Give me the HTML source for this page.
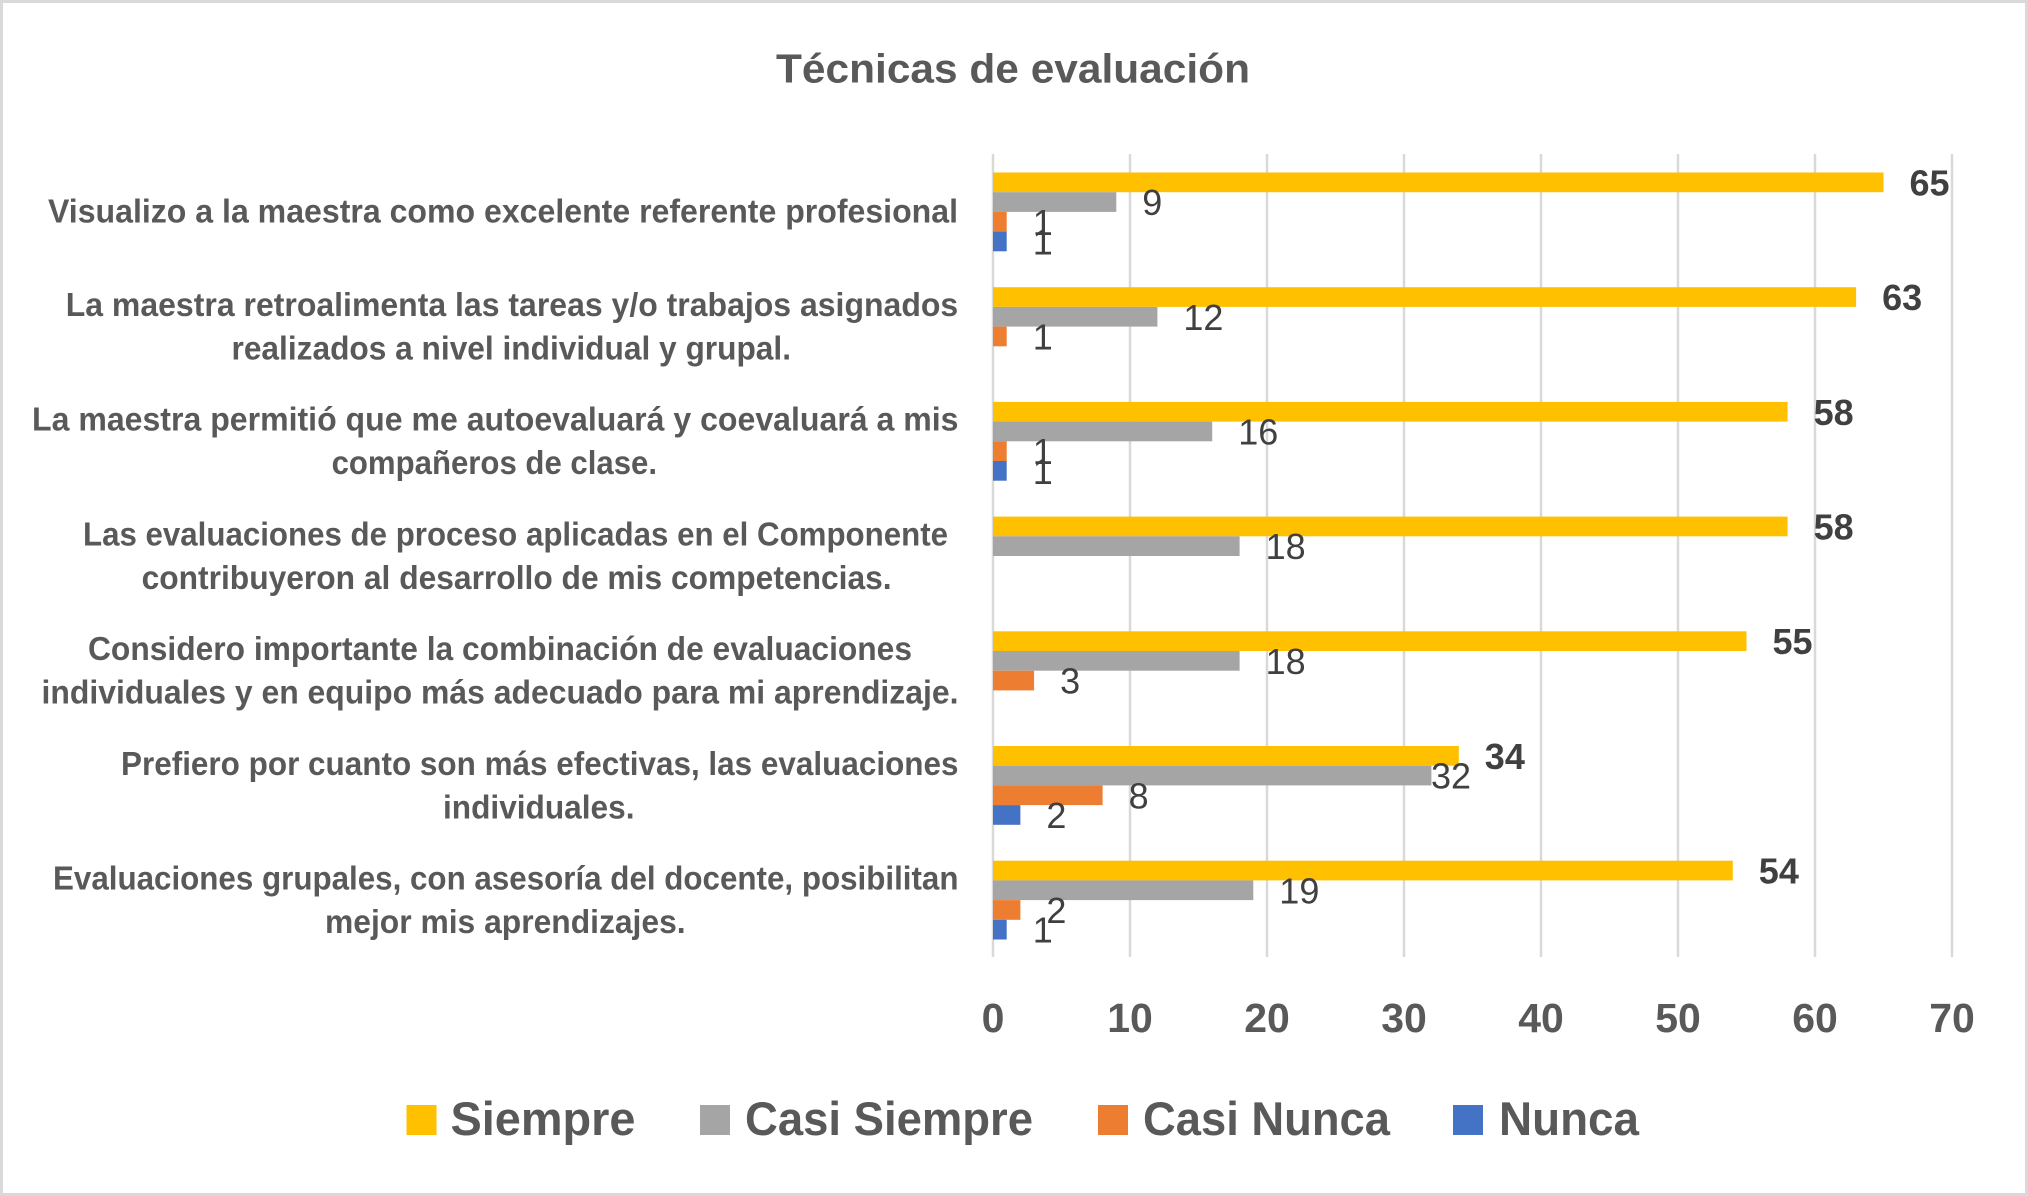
<!DOCTYPE html>
<html>
<head>
<meta charset="utf-8">
<style>
  html, body { margin: 0; padding: 0; background: #ffffff; }
  svg { display: block; }
  text { font-family: "Liberation Sans", Arial, sans-serif; }
  .cat { font-size: 33px; font-weight: bold; fill: #595959; }
  .tick { font-size: 41px; font-weight: bold; fill: #595959; }
  .lbl { font-size: 36px; fill: #404040; }
  .lblb { font-size: 36px; font-weight: bold; fill: #404040; }
  .leg { font-size: 47px; font-weight: bold; fill: #595959; }
  .title { font-size: 41px; font-weight: bold; fill: #595959; }
</style>
</head>
<body>
<svg width="2028" height="1196" viewBox="0 0 2028 1196" xmlns="http://www.w3.org/2000/svg">
  <rect x="0" y="0" width="2028" height="1196" fill="#ffffff"/>
  <rect x="1.5" y="1.5" width="2025" height="1193" fill="none" stroke="#d9d9d9" stroke-width="3"/>

  <!-- Title -->
  <text class="title" x="776" y="82.5" textLength="474" lengthAdjust="spacingAndGlyphs">Técnicas de evaluación</text>

  <!-- Gridlines -->
  <g stroke="#d9d9d9" stroke-width="2.5">
    <line x1="993" y1="154" x2="993" y2="957"/>
    <line x1="1130" y1="154" x2="1130" y2="957"/>
    <line x1="1267" y1="154" x2="1267" y2="957"/>
    <line x1="1404" y1="154" x2="1404" y2="957"/>
    <line x1="1541" y1="154" x2="1541" y2="957"/>
    <line x1="1678" y1="154" x2="1678" y2="957"/>
    <line x1="1815" y1="154" x2="1815" y2="957"/>
    <line x1="1952" y1="154" x2="1952" y2="957"/>
  </g>

  <!-- Bars -->
  <g>
    <!-- cat 1 -->
    <rect x="993" y="172.5" width="890.5" height="19.7" fill="#FFC000"/>
    <rect x="993" y="192.2" width="123.3" height="19.7" fill="#A5A5A5"/>
    <rect x="993" y="211.9" width="13.7" height="19.7" fill="#ED7D31"/>
    <rect x="993" y="231.6" width="13.7" height="19.7" fill="#4472C4"/>
    <!-- cat 2 -->
    <rect x="993" y="287.2" width="863.1" height="19.7" fill="#FFC000"/>
    <rect x="993" y="306.9" width="164.4" height="19.7" fill="#A5A5A5"/>
    <rect x="993" y="326.6" width="13.7" height="19.7" fill="#ED7D31"/>
    <!-- cat 3 -->
    <rect x="993" y="401.9" width="794.6" height="19.7" fill="#FFC000"/>
    <rect x="993" y="421.6" width="219.2" height="19.7" fill="#A5A5A5"/>
    <rect x="993" y="441.3" width="13.7" height="19.7" fill="#ED7D31"/>
    <rect x="993" y="461.0" width="13.7" height="19.7" fill="#4472C4"/>
    <!-- cat 4 -->
    <rect x="993" y="516.6" width="794.6" height="19.7" fill="#FFC000"/>
    <rect x="993" y="536.3" width="246.6" height="19.7" fill="#A5A5A5"/>
    <!-- cat 5 -->
    <rect x="993" y="631.3" width="753.5" height="19.7" fill="#FFC000"/>
    <rect x="993" y="651.0" width="246.6" height="19.7" fill="#A5A5A5"/>
    <rect x="993" y="670.7" width="41.1" height="19.7" fill="#ED7D31"/>
    <!-- cat 6 -->
    <rect x="993" y="746.0" width="465.8" height="19.7" fill="#FFC000"/>
    <rect x="993" y="765.7" width="438.4" height="19.7" fill="#A5A5A5"/>
    <rect x="993" y="785.4" width="109.6" height="19.7" fill="#ED7D31"/>
    <rect x="993" y="805.1" width="27.4" height="19.7" fill="#4472C4"/>
    <!-- cat 7 -->
    <rect x="993" y="860.7" width="739.8" height="19.7" fill="#FFC000"/>
    <rect x="993" y="880.4" width="260.3" height="19.7" fill="#A5A5A5"/>
    <rect x="993" y="900.1" width="27.4" height="19.7" fill="#ED7D31"/>
    <rect x="993" y="919.8" width="13.7" height="19.7" fill="#4472C4"/>
  </g>

  <!-- Data labels -->
  <g>
    <text class="lblb" x="1909.5" y="195.4">65</text>
    <text class="lbl" x="1142.3" y="215.1">9</text>
    <text class="lbl" x="1032.7" y="234.8">1</text>
    <text class="lbl" x="1032.7" y="254.5">1</text>

    <text class="lblb" x="1882.1" y="310.1">63</text>
    <text class="lbl" x="1183.4" y="329.8">12</text>
    <text class="lbl" x="1032.7" y="349.5">1</text>

    <text class="lblb" x="1813.6" y="424.8">58</text>
    <text class="lbl" x="1238.2" y="444.5">16</text>
    <text class="lbl" x="1032.7" y="464.2">1</text>
    <text class="lbl" x="1032.7" y="483.9">1</text>

    <text class="lblb" x="1813.6" y="539.5">58</text>
    <text class="lbl" x="1265.6" y="559.2">18</text>

    <text class="lblb" x="1772.5" y="654.2">55</text>
    <text class="lbl" x="1265.6" y="673.9">18</text>
    <text class="lbl" x="1060.1" y="693.6">3</text>

    <text class="lblb" x="1484.8" y="768.9">34</text>
    <text class="lbl" x="1431" y="788.6">32</text>
    <text class="lbl" x="1128.6" y="808.3">8</text>
    <text class="lbl" x="1046.4" y="828.0">2</text>

    <text class="lblb" x="1758.8" y="883.6">54</text>
    <text class="lbl" x="1279.3" y="903.3">19</text>
    <text class="lbl" x="1046.4" y="923.0">2</text>
    <text class="lbl" x="1032.7" y="942.7">1</text>
  </g>

  <!-- Category labels -->
  <g>
    <text class="cat" x="48" y="222.3" textLength="910" lengthAdjust="spacingAndGlyphs">Visualizo a la maestra como excelente referente profesional</text>

    <text class="cat" x="65.7" y="316" textLength="892.5" lengthAdjust="spacingAndGlyphs">La maestra retroalimenta las tareas y/o trabajos asignados</text>
    <text class="cat" x="231.5" y="359.5" textLength="559.5" lengthAdjust="spacingAndGlyphs">realizados a nivel individual y grupal.</text>

    <text class="cat" x="32" y="430.7" textLength="926.5" lengthAdjust="spacingAndGlyphs">La maestra permitió que me autoevaluará y coevaluará a mis</text>
    <text class="cat" x="331.6" y="474.2" textLength="325.4" lengthAdjust="spacingAndGlyphs">compañeros de clase.</text>

    <text class="cat" x="83" y="545.5" textLength="865" lengthAdjust="spacingAndGlyphs">Las evaluaciones de proceso aplicadas en el Componente</text>
    <text class="cat" x="141.6" y="589" textLength="750" lengthAdjust="spacingAndGlyphs">contribuyeron al desarrollo de mis competencias.</text>

    <text class="cat" x="88" y="660" textLength="824" lengthAdjust="spacingAndGlyphs">Considero importante la combinación de evaluaciones</text>
    <text class="cat" x="41.5" y="703.7" textLength="917" lengthAdjust="spacingAndGlyphs">individuales y en equipo más adecuado para mi aprendizaje.</text>

    <text class="cat" x="121" y="774.8" textLength="837.5" lengthAdjust="spacingAndGlyphs">Prefiero por cuanto son más efectivas, las evaluaciones</text>
    <text class="cat" x="443" y="818.3" textLength="191.5" lengthAdjust="spacingAndGlyphs">individuales.</text>

    <text class="cat" x="53" y="889.5" textLength="905.5" lengthAdjust="spacingAndGlyphs">Evaluaciones grupales, con asesoría del docente, posibilitan</text>
    <text class="cat" x="325" y="933" textLength="360.6" lengthAdjust="spacingAndGlyphs">mejor mis aprendizajes.</text>
  </g>

  <!-- X tick labels -->
  <g text-anchor="middle">
    <text class="tick" x="993" y="1032">0</text>
    <text class="tick" x="1130" y="1032">10</text>
    <text class="tick" x="1267" y="1032">20</text>
    <text class="tick" x="1404" y="1032">30</text>
    <text class="tick" x="1541" y="1032">40</text>
    <text class="tick" x="1678" y="1032">50</text>
    <text class="tick" x="1815" y="1032">60</text>
    <text class="tick" x="1952" y="1032">70</text>
  </g>

  <!-- Legend -->
  <g>
    <rect x="406.5" y="1105" width="30" height="30" fill="#FFC000"/>
    <text class="leg" x="450.5" y="1135" textLength="185" lengthAdjust="spacingAndGlyphs">Siempre</text>
    <rect x="700" y="1105" width="30" height="30" fill="#A5A5A5"/>
    <text class="leg" x="745" y="1135" textLength="288" lengthAdjust="spacingAndGlyphs">Casi Siempre</text>
    <rect x="1098" y="1105" width="30" height="30" fill="#ED7D31"/>
    <text class="leg" x="1143" y="1135" textLength="247" lengthAdjust="spacingAndGlyphs">Casi Nunca</text>
    <rect x="1453" y="1105" width="30" height="30" fill="#4472C4"/>
    <text class="leg" x="1499" y="1135" textLength="140" lengthAdjust="spacingAndGlyphs">Nunca</text>
  </g>
</svg>
</body>
</html>
